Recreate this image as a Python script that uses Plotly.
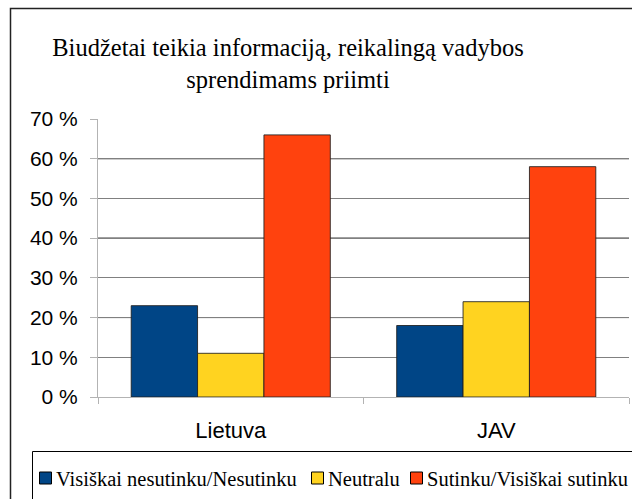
import plotly.graph_objects as go

categories = ["Lietuva", "JAV"]
series_names = ["Visiškai nesutinku/Nesutinku", "Neutralu", "Sutinku/Visiškai sutinku"]
disagree = [23, 18]
neutral = [11, 24]
agree = [66, 58]
series = [disagree, neutral, agree]
colors = ["#004586", "#ffd320", "#ff420e"]
y_ticks = [0, 10, 20, 30, 40, 50, 60, 70]
y_tick_labels = ["0 %", "10 %", "20 %", "30 %", "40 %", "50 %", "60 %", "70 %"]
dark_grid = [20, 40, 60]
title_text = "Biudžetai teikia informaciją, reikalingą vadybos<br>sprendimams priimti"

W, H = 632, 499
L, R, T, B = 98, 3, 119, 102
pw, ph = W - L - R, H - T - B

def px_x(p):
    return (p - L) / pw

def px_y(p):
    return (H - B - p) / ph

fig = go.Figure()
for name, vals, col in zip(series_names, series, colors):
    fig.add_trace(go.Bar(
        x=categories, y=vals, name=name, showlegend=False,
        marker=dict(color=col, line=dict(color="rgba(30,30,30,0.85)", width=1)),
    ))

shapes = []
for v in dark_grid:
    shapes.append(dict(type="line", xref="x domain", yref="y", x0=0, x1=1, y0=v, y1=v,
                       line=dict(color="#000000", width=1), layer="below"))
# outer chart border
shapes.append(dict(type="rect", xref="paper", yref="paper",
                   x0=px_x(10.5), x1=px_x(660), y0=px_y(8.5), y1=px_y(540),
                   line=dict(color="#222222", width=1.5), fillcolor="rgba(0,0,0,0)", layer="below"))
# legend box
shapes.append(dict(type="rect", xref="paper", yref="paper",
                   x0=px_x(32.5), x1=px_x(660), y0=px_y(451.5), y1=px_y(540),
                   line=dict(color="#000000", width=1), fillcolor="rgba(0,0,0,0)", layer="above"))

# legend entries (swatch + label)
legend_swatch_x = [39, 311, 410]
legend_y = 478
sw = 12
annotations = []
for name, col, sx in zip(series_names, colors, legend_swatch_x):
    shapes.append(dict(type="rect", xref="paper", yref="paper",
                       x0=px_x(sx + 0.5), x1=px_x(sx + sw + 0.5),
                       y0=px_y(legend_y - sw / 2), y1=px_y(legend_y + sw / 2),
                       line=dict(color="#000000", width=1), fillcolor=col, layer="above"))
    annotations.append(dict(text=name, xref="paper", yref="paper",
                            x=px_x(sx + sw + 3), y=px_y(legend_y + 1), xanchor="left", yanchor="middle",
                            showarrow=False,
                            font=dict(family="Liberation Serif", size=20.5, color="#000")))

fig.update_layout(
    width=W, height=H,
    margin=dict(l=L, r=R, t=T, b=B, autoexpand=False),
    paper_bgcolor="white", plot_bgcolor="white",
    barmode="group", bargap=0.25, bargroupgap=0,
    title=dict(text=title_text, x=288 / W, xanchor="center", xref="container",
               y=1 - 56 / H, yanchor="middle", yref="container",
               font=dict(family="Liberation Serif", size=24.5, color="#000")),
    showlegend=False,
    shapes=shapes,
    annotations=annotations,
    xaxis=dict(showline=True, linecolor="#b3b3b3", linewidth=1,
               ticks="outside", ticklen=6, tickcolor="#b3b3b3", tickson="boundaries",
               ticklabelstandoff=14,
               tickfont=dict(family="Liberation Sans", size=22, color="#000"),
               showgrid=False),
    yaxis=dict(range=[0, 70], tickvals=y_ticks, ticktext=y_tick_labels,
               showline=True, linecolor="#b3b3b3", linewidth=1,
               ticks="outside", ticklen=7, tickcolor="#b3b3b3",
               ticklabelstandoff=8,
               showgrid=True, gridcolor="#808080", gridwidth=1,
               zeroline=False,
               tickfont=dict(family="Liberation Sans", size=21, color="#000")),
)

fig.write_html("out.html", config={"displayModeBar": False},
               post_script="document.body.style.margin='0';document.body.style.overflow='hidden';")
